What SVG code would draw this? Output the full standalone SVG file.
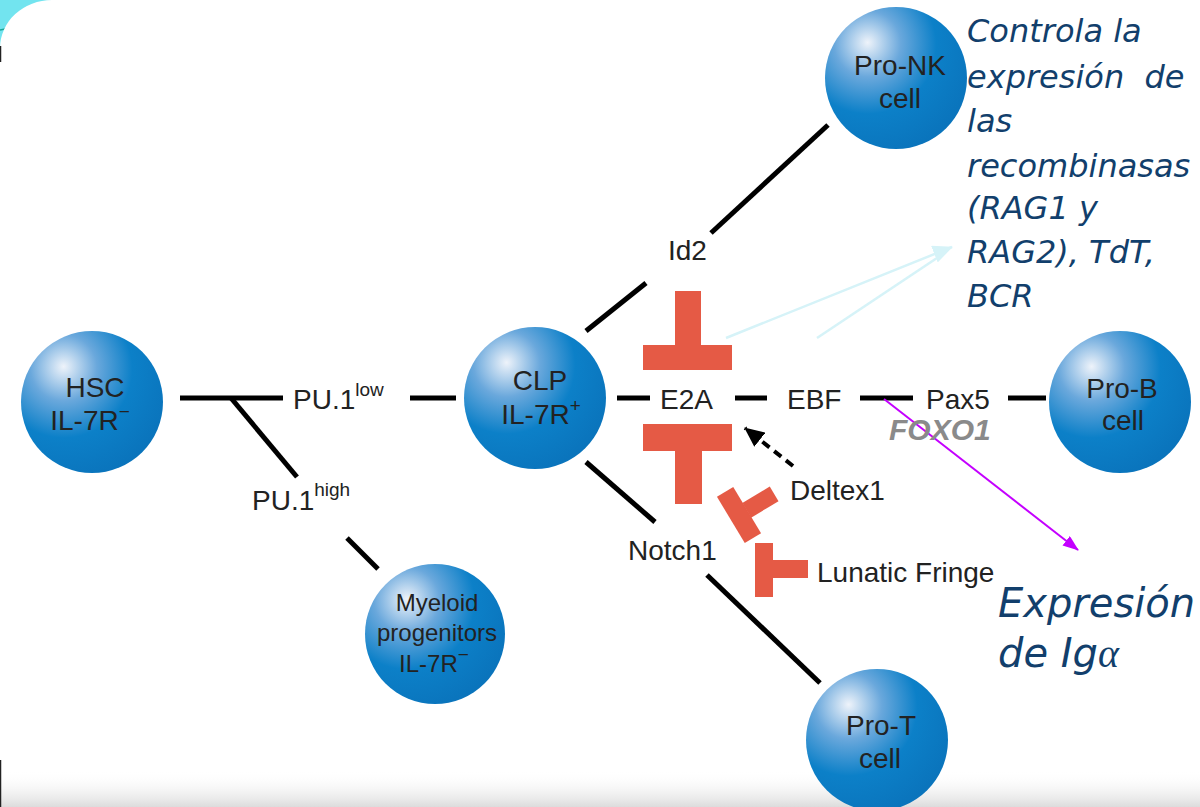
<svg xmlns="http://www.w3.org/2000/svg" width="1200" height="807" viewBox="0 0 1200 807">
  <defs>
    <radialGradient id="sphere" cx="0.3" cy="0.28" r="0.78" fx="0.3" fy="0.25">
      <stop offset="0" stop-color="#eef3fa"/>
      <stop offset="0.3" stop-color="#6aa8dc"/>
      <stop offset="0.62" stop-color="#0c80c8"/>
      <stop offset="1" stop-color="#0a74bc"/>
    </radialGradient>
    <linearGradient id="floor" x1="0" y1="0" x2="0" y2="1">
      <stop offset="0" stop-color="#ffffff" stop-opacity="0"/>
      <stop offset="1" stop-color="#dcdcdc"/>
    </linearGradient>
    <marker id="headBlack" viewBox="0 0 20 18" refX="19" refY="9" markerWidth="20" markerHeight="18" markerUnits="userSpaceOnUse" orient="auto">
      <path d="M0,0 L20,9 L0,18 Z" fill="#000"/>
    </marker>
    <marker id="headMagenta" viewBox="0 0 16 12" refX="15" refY="6" markerWidth="16" markerHeight="12" markerUnits="userSpaceOnUse" orient="auto">
      <path d="M0,0 L16,6 L0,12 Z" fill="#c400ff"/>
    </marker>
    <marker id="headCyan" viewBox="0 0 20 18" refX="19" refY="9" markerWidth="20" markerHeight="18" markerUnits="userSpaceOnUse" orient="auto">
      <path d="M0,0 L20,9 L0,18 Z" fill="#d6f3f8"/>
    </marker>
    <style>
      .cell { fill: url(#sphere); }
      .lbl { font-family: "Liberation Sans", Arial, sans-serif; font-size: 28px; fill: #222; }
      .ctr { text-anchor: middle; }
      .sm { font-size: 24px; }
      .sup { font-size: 19px; }
      .edge { stroke: #000; stroke-width: 5; fill: none; }
      .block { fill: #e55a45; }
      .note { font-family: "DejaVu Sans", Verdana, sans-serif; font-style: italic; fill: #123f6c; }
    </style>
  </defs>

  <!-- slide background -->
  <rect x="0" y="0" width="1200" height="807" fill="#ffffff"/>
  <rect x="0" y="0" width="90" height="90" fill="#72e4ef"/>
  <path d="M0,30 Q8,28 12,29" stroke="#1aa79a" stroke-width="1.5" fill="none"/>
  <rect x="0" y="0" width="1250" height="880" rx="52" ry="48" fill="#ffffff"/>
  <rect x="0" y="770" width="1200" height="37" fill="url(#floor)"/>
  <line x1="0.5" y1="46" x2="0.5" y2="62" stroke="#222" stroke-width="1.5"/>
  <line x1="0.5" y1="760" x2="0.5" y2="807" stroke="#222" stroke-width="1.5"/>

  <!-- connectors -->
  <g id="connectors">
    <line class="edge" x1="180" y1="398" x2="283" y2="398"/>
    <line class="edge" x1="410" y1="398" x2="456" y2="398"/>
    <line class="edge" x1="231" y1="398" x2="297" y2="477"/>
    <line class="edge" x1="347" y1="538" x2="378" y2="569"/>
    <line class="edge" x1="617" y1="398" x2="650" y2="398"/>
    <line class="edge" x1="735" y1="398" x2="767" y2="398"/>
    <line class="edge" x1="860" y1="398" x2="913" y2="398"/>
    <line class="edge" x1="1008" y1="398" x2="1046" y2="398"/>
    <line class="edge" x1="586" y1="331" x2="646" y2="283"/>
    <line class="edge" x1="711" y1="233" x2="828" y2="125"/>
    <line class="edge" x1="586" y1="462" x2="655" y2="522"/>
    <line class="edge" x1="707" y1="575" x2="820" y2="683"/>
    <!-- Deltex1 promotes E2A -->
    <line x1="793" y1="466" x2="745" y2="428" stroke="#000" stroke-width="4" stroke-dasharray="9,6" marker-end="url(#headBlack)"/>
    <!-- EBF/Pax5 to Ig-alpha expression -->
    <line x1="884" y1="399" x2="1078" y2="550" stroke="#c400ff" stroke-width="2" marker-end="url(#headMagenta)"/>
    <!-- E2A to recombinase control -->
    <line x1="726" y1="338" x2="952" y2="247" stroke="#d6f3f8" stroke-width="2.5" marker-end="url(#headCyan)"/>
    <line x1="817" y1="338" x2="943" y2="254" stroke="#d6f3f8" stroke-width="2.5"/>
  </g>

  <!-- inhibition symbols -->
  <g id="inhibitors">
    <g id="block-id2">
      <rect class="block" x="643" y="345" width="89" height="25"/>
      <rect class="block" x="675" y="291" width="26" height="55"/>
    </g>
    <g id="block-notch1">
      <rect class="block" x="643" y="424" width="89" height="27"/>
      <rect class="block" x="675" y="450" width="27" height="54"/>
    </g>
    <g id="block-deltex1" transform="translate(739,515) rotate(-31)">
      <rect class="block" x="-9.5" y="-27" width="19" height="54"/>
      <rect class="block" x="9" y="-8.5" width="32" height="17"/>
    </g>
    <g id="block-lfng">
      <rect class="block" x="755" y="543" width="18" height="54"/>
      <rect class="block" x="772" y="560" width="36" height="18"/>
    </g>
  </g>

  <!-- factor labels -->
  <g id="labels">
    <text class="lbl" x="293" y="409">PU.1<tspan class="sup" dy="-13">low</tspan></text>
    <text class="lbl" x="252" y="510">PU.1<tspan class="sup" dy="-14">high</tspan></text>
    <text class="lbl" x="660" y="409">E2A</text>
    <text class="lbl" x="787" y="409">EBF</text>
    <text class="lbl" x="926" y="409">Pax5</text>
    <text class="lbl" x="668" y="260">Id2</text>
    <text class="lbl" x="628" y="560">Notch1</text>
    <text class="lbl" x="790" y="500">Deltex1</text>
    <text class="lbl" x="817" y="582">Lunatic Fringe</text>
    <text x="889" y="440" font-family="'Liberation Sans', Arial, sans-serif" font-size="30" font-weight="bold" font-style="italic" fill="#8a8a8a">FOXO1</text>
  </g>

  <!-- cell nodes -->
  <g id="node-hsc">
    <circle class="cell" cx="92" cy="402" r="71"/>
    <text class="lbl ctr" x="95" y="397">HSC</text>
    <text class="lbl ctr" x="90" y="430">IL-7R<tspan class="sup" dy="-12">−</tspan></text>
  </g>
  <g id="node-clp">
    <circle class="cell" cx="535" cy="398" r="71"/>
    <text class="lbl ctr" x="540" y="390">CLP</text>
    <text class="lbl ctr" x="541" y="424">IL-7R<tspan class="sup" dy="-12">+</tspan></text>
  </g>
  <g id="node-myeloid">
    <circle class="cell" cx="435" cy="634" r="70"/>
    <text class="lbl ctr sm" x="437" y="611">Myeloid</text>
    <text class="lbl ctr sm" x="437" y="641">progenitors</text>
    <text class="lbl ctr sm" x="434" y="672">IL-7R<tspan class="sup" dy="-11">−</tspan></text>
  </g>
  <g id="node-pronk">
    <circle class="cell" cx="896" cy="78" r="71"/>
    <text class="lbl ctr" x="900" y="75">Pro-NK</text>
    <text class="lbl ctr" x="900" y="108">cell</text>
  </g>
  <g id="node-prob">
    <circle class="cell" cx="1120" cy="402" r="71"/>
    <text class="lbl ctr" x="1122" y="398">Pro-B</text>
    <text class="lbl ctr" x="1123" y="430">cell</text>
  </g>
  <g id="node-prot">
    <circle class="cell" cx="877" cy="740" r="71"/>
    <text class="lbl ctr" x="881" y="735">Pro-T</text>
    <text class="lbl ctr" x="880" y="768">cell</text>
  </g>

  <!-- annotations -->
  <g id="note-recombinases" class="note" font-size="32">
    <text x="967" y="42">Controla la</text>
    <text x="967" y="88" xml:space="preserve">expresión  de</text>
    <text x="967" y="132">las</text>
    <text x="967" y="177">recombinasas</text>
    <text x="967" y="219">(RAG1 y</text>
    <text x="967" y="263">RAG2), TdT,</text>
    <text x="967" y="307">BCR</text>
  </g>
  <g id="note-iga" class="note" font-size="40">
    <text x="998" y="617">Expresión</text>
    <text x="998" y="667">de Ig<tspan font-family="'Liberation Serif', serif">α</tspan></text>
  </g>
</svg>
